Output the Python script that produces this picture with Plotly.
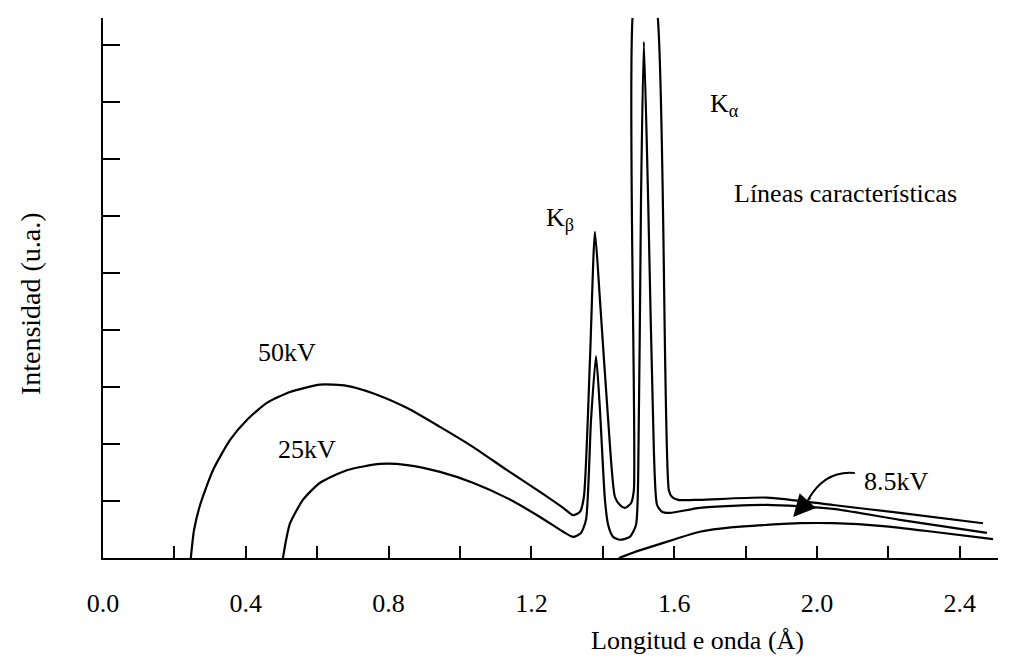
import plotly.graph_objects as go

# ---- data ----
lam_50 = [0.246, 0.255, 0.272, 0.308, 0.356, 0.403, 0.459, 0.524, 0.608, 0.683, 0.756, 0.852, 0.944,
          1.036, 1.132, 1.224, 1.289, 1.317, 1.336, 1.347, 1.364, 1.378, 1.392, 1.415, 1.434, 1.448,
          1.462, 1.479, 1.487, 1.485, 1.518, 1.552, 1.585, 1.594, 1.611, 1.672, 1.860, 2.045, 2.232, 2.465]
int_50 = [0.00, 0.49, 0.93, 1.54, 2.07, 2.42, 2.72, 2.91, 3.04, 3.02, 2.89, 2.63, 2.30,
          1.95, 1.54, 1.16, 0.88, 0.75, 0.81, 1.07, 3.47, 5.72, 4.53, 2.42, 1.07, 0.93,
          0.88, 0.96, 1.19, 9.60, 10.3, 9.60, 1.19, 1.07, 1.02, 1.02, 1.06, 0.93, 0.79, 0.61]

lam_25 = [0.504, 0.513, 0.524, 0.560, 0.608, 0.683, 0.776, 0.852, 0.944, 1.036, 1.132, 1.224, 1.289,
          1.317, 1.339, 1.353, 1.367, 1.381, 1.392, 1.406, 1.415, 1.429, 1.448, 1.476, 1.493, 1.499,
          1.507, 1.515, 1.527, 1.543, 1.552, 1.566, 1.588, 1.672, 1.860, 2.045, 2.232, 2.476]
int_25 = [0.00, 0.32, 0.61, 1.02, 1.32, 1.54, 1.65, 1.63, 1.51, 1.32, 1.05, 0.72, 0.46,
          0.37, 0.44, 0.67, 2.42, 3.54, 2.60, 1.02, 0.58, 0.37, 0.32, 0.37, 0.58, 1.37,
          6.28, 9.05, 6.28, 1.89, 0.93, 0.81, 0.79, 0.88, 0.93, 0.86, 0.67, 0.44]

lam_85 = [1.445, 1.490, 1.532, 1.602, 1.672, 1.765, 1.860, 1.952, 2.045, 2.185, 2.325, 2.493]
int_85 = [0.00, 0.105, 0.19, 0.33, 0.46, 0.54, 0.58, 0.61, 0.61, 0.56, 0.46, 0.33]

x_label_step = 0.4
x_minor_step = 0.2
y_ticks = [1, 2, 3, 4, 5, 6, 7, 8, 9]

FONT = "Liberation Serif, Times New Roman, serif"

fig = go.Figure()
for lam, inten, name in [(lam_50, int_50, "50kV"), (lam_25, int_25, "25kV"), (lam_85, int_85, "8.5kV")]:
    fig.add_trace(go.Scatter(x=lam, y=inten, mode="lines", name=name,
                             line=dict(color="black", width=2.2, shape="spline", smoothing=0.6),
                             hoverinfo="skip"))

# the page body adds an 8px offset, so margins are compensated for it
fig.update_layout(
    width=1010, height=657,
    margin=dict(l=95, r=20, t=10, b=107),
    paper_bgcolor="white", plot_bgcolor="white",
    showlegend=False,
    font=dict(family=FONT, size=26, color="black"),
    xaxis=dict(range=[0, 2.507], showgrid=False, zeroline=False, showline=True, automargin=False,
               linecolor="black", linewidth=2, ticks="inside", ticklen=12, tickwidth=2,
               tickcolor="black", tick0=0, dtick=x_label_step, tickformat=".1f",
               minor=dict(ticks="inside", tick0=0, dtick=x_minor_step, ticklen=12, tickwidth=2,
                          tickcolor="black", showgrid=False),
               tickfont=dict(family=FONT, size=26, color="black"), ticklabelstandoff=21),
    yaxis=dict(range=[0, 9.47], showgrid=False, zeroline=False, showline=True, automargin=False,
               linecolor="black", linewidth=2, ticks="inside", ticklen=17, tickwidth=2,
               tickcolor="black", tickvals=y_ticks, showticklabels=False),
)

ann_font = dict(family=FONT, size=26, color="black")
fig.add_annotation(x=0.515, y=3.60, text="50kV", showarrow=False, font=ann_font)
fig.add_annotation(x=0.571, y=1.91, text="25kV", showarrow=False, font=ann_font)
fig.add_annotation(x=2.224, y=1.35, text="8.5kV", showarrow=False, font=ann_font)
fig.add_annotation(x=2.081, y=6.40, text="Líneas características", showarrow=False, font=ann_font)
fig.add_annotation(x=1.280, y=5.95, text="K<sub>β</sub>", showarrow=False, font=ann_font)
fig.add_annotation(x=1.742, y=7.95, text="K<sub>α</sub>", showarrow=False, font=ann_font)

# axis titles
fig.add_annotation(xref="paper", yref="paper", x=-0.0816, y=0.472, xanchor="center", yanchor="middle",
                   text="Intensidad (u.a.)", textangle=-90, showarrow=False,
                   font=dict(family=FONT, size=28, color="black"))
fig.add_annotation(xref="paper", yref="paper", x=0.6637, y=-0.152, xanchor="center", yanchor="middle",
                   text="Longitud e onda (Å)", showarrow=False, font=ann_font)

# curved arrow pointing to the 8.5kV curve
fig.add_shape(type="path", xref="x", yref="y",
              path="M 2.106,1.491 Q 2.022,1.544 1.975,1.02",
              line=dict(color="black", width=2))
fig.add_annotation(x=1.933, y=0.719, ax=1.985, ay=1.08, axref="x", ayref="y",
                   xref="x", yref="y", text="", showarrow=True, arrowhead=2,
                   arrowsize=2.2, arrowwidth=2, arrowcolor="black", standoff=0)

fig.write_html("out.html")
